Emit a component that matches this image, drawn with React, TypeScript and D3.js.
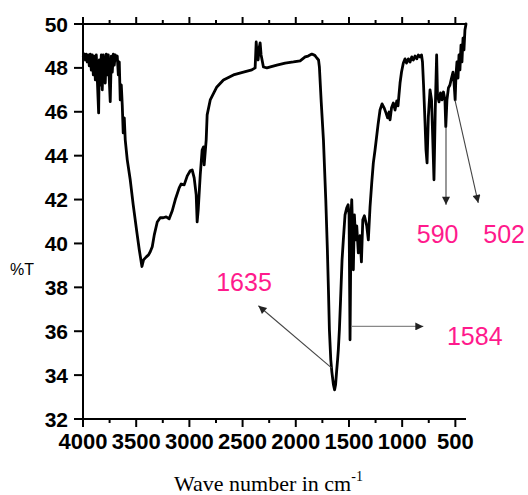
import React from "react";
import * as d3 from "d3";

// FT-IR spectrum: wavenumber (cm-1) and transmittance (%T)
const WAVENUMBER = [
  3997, 3988, 3978, 3969, 3960, 3950, 3941, 3931, 3922, 3913, 3903, 3894, 3884, 3875, 3866, 3853, 3847, 3838,
  3828, 3819, 3809, 3800, 3791, 3781, 3772, 3762, 3753, 3744, 3734, 3725, 3715, 3706, 3697, 3687, 3678, 3668,
  3659, 3650, 3640, 3631, 3622, 3612, 3603, 3584, 3556, 3528, 3493, 3471, 3446, 3431, 3405, 3384, 3368, 3349,
  3330, 3302, 3274, 3246, 3218, 3190, 3161, 3133, 3096, 3077, 3049, 3020, 2992, 2974, 2955, 2936, 2927, 2917,
  2898, 2880, 2867, 2861, 2842, 2833, 2804, 2742, 2680, 2586, 2492, 2413, 2382, 2372, 2363, 2354, 2344, 2335,
  2326, 2304, 2272, 2178, 2100, 2022, 1959, 1912, 1884, 1849, 1821, 1802, 1786, 1778, 1762, 1740, 1718, 1703,
  1693, 1684, 1671, 1661, 1646, 1635, 1626, 1615, 1607, 1600, 1590, 1579, 1565, 1553, 1537, 1521, 1508, 1499,
  1490, 1480, 1474, 1466, 1459, 1449, 1438, 1427, 1412, 1396, 1383, 1370, 1355, 1333, 1318, 1302, 1286, 1271,
  1255, 1227, 1208, 1189, 1170, 1152, 1137, 1123, 1114, 1100, 1083, 1067, 1051, 1039, 1030, 1020, 1006, 989,
  973, 959, 942, 926, 910, 895, 879, 863, 848, 832, 818, 809, 799, 785, 776, 766, 754, 738, 724, 715, 701, 689,
  676, 668, 654, 640, 626, 612, 598, 590, 579, 565, 551, 536, 522, 513, 502, 494, 485, 475, 466, 457, 447, 438,
  428, 419, 410, 400,
];

const TRANSMITTANCE = [
  48.54, 48.63, 48.36, 48.63, 48.27, 48.59, 48.09, 48.63, 47.9, 48.59, 47.68, 48.54, 47.45, 48.59, 47.54, 45.95,
  48.36, 47.22, 48.59, 47.0, 48.59, 47.9, 47.31, 48.63, 47.68, 48.59, 47.45, 46.46, 48.54, 47.81, 48.63, 48.13,
  48.59, 48.36, 48.54, 47.68, 48.27, 46.54, 47.22, 46.31, 45.04, 45.72, 44.72, 43.81, 42.9, 41.76, 40.48, 39.71,
  38.95, 39.25, 39.39, 39.48, 39.62, 39.85, 40.39, 40.98, 41.17, 41.17, 41.21, 41.12, 41.49, 41.99, 42.53, 42.71,
  42.67, 43.08, 43.31, 43.35, 42.99, 42.21, 40.98, 41.53, 43.12, 44.26, 44.4, 43.58, 44.72, 45.86, 46.54, 47.13,
  47.45, 47.68, 47.81, 47.91, 48.0, 49.18, 48.59, 48.36, 48.91, 49.14, 48.59, 48.04, 48.0, 48.13, 48.22, 48.27,
  48.32, 48.5, 48.54, 48.63, 48.57, 48.45, 48.36, 48.04, 46.54, 44.72, 41.99, 39.71, 37.89, 36.07, 34.7, 34.15,
  33.56, 33.33, 33.56, 34.24, 34.7, 35.16, 36.07, 37.43, 39.25, 40.16, 41.3, 41.62, 41.76, 41.3, 35.61, 41.3,
  41.99, 40.62, 38.8, 41.3, 40.16, 40.8, 39.57, 40.35, 39.16, 41.08, 41.26, 40.8, 40.16, 41.67, 42.76, 43.67,
  44.26, 45.4, 46.08, 46.36, 46.18, 45.95, 45.72, 45.99, 45.63, 46.18, 46.4, 46.08, 46.49, 46.27, 46.77, 47.31,
  47.81, 48.22, 48.41, 48.22, 48.41, 48.27, 48.5, 48.36, 48.54, 48.41, 48.59, 48.5, 48.59, 48.27, 47.22, 45.49,
  44.26, 43.67, 45.77, 47.0, 46.54, 45.17, 42.9, 46.08, 48.59, 46.77, 46.45, 46.86, 46.54, 46.9, 46.54, 45.32,
  46.54, 47.09, 47.22, 47.54, 47.81, 47.36, 46.54, 47.68, 48.27, 47.54, 48.59, 47.91, 49.04, 48.27, 49.36, 48.82,
  49.73, 50.0,
];

const X_TICKS = [4000, 3500, 3000, 2500, 2000, 1500, 1000, 500];
const X_MINOR_TICKS = [3750, 3250, 2750, 2250, 1750, 1250, 750];
const Y_TICKS = [32, 34, 36, 38, 40, 42, 44, 46, 48, 50];

// Peak callouts: arrow from the band to the tip, label placed at (LABEL_W, LABEL_T)
const PEAK_LABELS = ["1635", "1584", "590", "502"];
const ARROW_FROM_W = [1661, 1474, 588, 504];
const ARROW_FROM_T = [34.32, 36.22, 45.32, 46.54];
const ARROW_TO_W = [2351, 801, 588, 285];
const ARROW_TO_T = [37.16, 36.22, 41.76, 41.85];
const LABEL_W = [2748, 579, 863, 238];
const LABEL_T = [37.84, 35.38, 40.03, 40.03];

const WIDTH = 528;
const HEIGHT = 495;
const M = { left: 83, right: 466, top: 24, bottom: 419 };

export default function App() {
  const x = d3.scaleLinear().domain([4000, 400]).range([M.left, M.right]);
  const y = d3.scaleLinear().domain([32, 50]).range([M.bottom, M.top]);

  const points = WAVENUMBER.map((w, i) => [w, TRANSMITTANCE[i]] as [number, number]);
  const line = d3
    .line<[number, number]>()
    .x((d) => x(d[0]))
    .y((d) => y(d[1]));

  const tickFont = "'Liberation Sans', Arial, sans-serif";
  const axisW = 2;

  return (
    <svg
      width={WIDTH}
      height={HEIGHT}
      style={{ position: "absolute", left: 0, top: 0, background: "#fff" }}
    >
      <defs>
        <marker
          id="head"
          viewBox="0 0 10 10"
          refX="10"
          refY="5"
          markerWidth="10"
          markerHeight="8"
          markerUnits="userSpaceOnUse"
          orient="auto"
        >
          <path d="M0,0 L10,5 L0,10 Z" fill="#222" />
        </marker>
      </defs>

      {/* axes frame: left, bottom, top */}
      <g stroke="#000" strokeWidth={axisW} fill="none">
        <line x1={M.left} x2={M.left} y1={M.top} y2={M.bottom} />
        <line x1={M.left - 1} x2={M.right} y1={M.bottom} y2={M.bottom} />
        <line x1={M.left - 1} x2={M.right} y1={M.top} y2={M.top} />
      </g>

      {/* x ticks (bottom and top, pointing outward) and y ticks */}
      <g stroke="#000" strokeWidth={axisW}>
        {X_TICKS.map((t) => (
          <g key={"xt" + t}>
            <line x1={x(t)} x2={x(t)} y1={M.bottom} y2={M.bottom + 8} />
            <line x1={x(t)} x2={x(t)} y1={M.top} y2={M.top - 7} />
          </g>
        ))}
        {X_MINOR_TICKS.map((t) => (
          <g key={"xm" + t}>
            <line x1={x(t)} x2={x(t)} y1={M.bottom} y2={M.bottom + 4} />
            <line x1={x(t)} x2={x(t)} y1={M.top} y2={M.top - 4} />
          </g>
        ))}
        {Y_TICKS.map((t) => (
          <line key={"yt" + t} x1={M.left - 9} x2={M.left} y1={y(t)} y2={y(t)} />
        ))}
      </g>

      <g fontFamily={tickFont} fontWeight="bold" fill="#000">
        {X_TICKS.map((t) => (
          <text key={"xl" + t} x={x(t)} y={M.bottom + 30} fontSize={22} textAnchor="middle">
            {t}
          </text>
        ))}
        {Y_TICKS.map((t) => (
          <text key={"yl" + t} x={M.left - 15} y={y(t) + 7.5} fontSize={21} textAnchor="end">
            {t}
          </text>
        ))}
      </g>

      <text x={10} y={275} fontFamily={tickFont} fontSize={16} fill="#000">
        %T
      </text>

      <text
        x={174}
        y={491}
        fontFamily="'Liberation Serif', 'Times New Roman', serif"
        fontSize={22}
        fill="#000"
      >
        Wave number in cm
        <tspan fontSize={14} dy={-10}>
          -1
        </tspan>
      </text>

      {/* spectrum */}
      <path
        d={line(points) ?? ""}
        fill="none"
        stroke="#000"
        strokeWidth={2.8}
        strokeLinejoin="round"
        strokeLinecap="round"
      />

      {/* peak callouts */}
      {PEAK_LABELS.map((lab, i) => (
        <g key={lab}>
          <line
            x1={x(ARROW_FROM_W[i])}
            y1={y(ARROW_FROM_T[i])}
            x2={x(ARROW_TO_W[i])}
            y2={y(ARROW_TO_T[i])}
            stroke={lab === "1584" ? "#888" : "#444"}
            strokeWidth={1.1}
            markerEnd="url(#head)"
          />
          <text
            x={x(LABEL_W[i])}
            y={y(LABEL_T[i])}
            fontFamily={tickFont}
            fontSize={25}
            fill="#ff1a8c"
          >
            {lab}
          </text>
        </g>
      ))}
    </svg>
  );
}
